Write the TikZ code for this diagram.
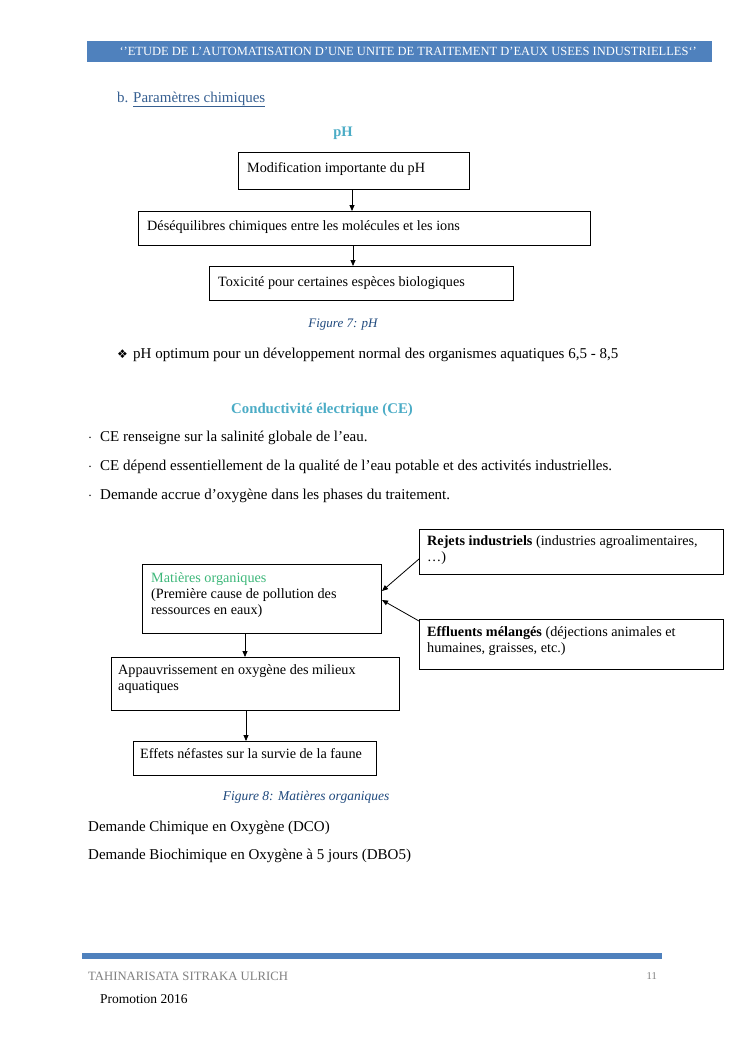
\documentclass[tikz,border=0pt]{standalone}
\usepackage{fontspec}
\setmainfont{Liberation Serif}
\usetikzlibrary{arrows.meta,calc}
\definecolor{hdrblue}{HTML}{4F81BD}
\definecolor{teal}{HTML}{4BACC6}
\definecolor{capblue}{HTML}{1F497D}
\definecolor{subblue}{HTML}{365F91}
\definecolor{mogreen}{HTML}{3DB87A}
\definecolor{footgray}{HTML}{7F7F7F}
\tikzset{
  box/.style={draw, line width=0.9pt, inner sep=0pt, anchor=north west},
  btxt/.style={anchor=base west, inner sep=0pt, font=\fontsize{14.2}{16}\selectfont, align=left},
  body/.style={anchor=base west, inner sep=0pt, font=\fontsize{15}{17}\selectfont},
  arr/.style={-{Triangle[length=6pt,width=5pt]}, line width=0.8pt},
}
\begin{document}
\begin{tikzpicture}[x=1pt,y=-1pt]
\useasboundingbox (0,0) rectangle (745,1053);
\fill[white] (0,0) rectangle (745,1053);
% header
\node[fill=hdrblue, minimum width=625pt, minimum height=21pt, inner sep=0pt, anchor=north west] (hdr) at (87,41) {};
\node[text=white, inner sep=0pt, font=\fontsize{12.5}{14}\selectfont] (hdrt) at ($(hdr.center)+(8.5,0)$) {`'ETUDE DE L'AUTOMATISATION D'UNE UNITE DE TRAITEMENT D'EAUX USEES INDUSTRIELLES`'};
% section
\node[body, text=subblue] (secb) at (117,102) {b.};
\node[body, text=subblue] (sect) at (133,102) {\underline{Paramètres chimiques}};
\node[text=teal, font=\bfseries\fontsize{14.5}{17}\selectfont, inner sep=0pt] (ph) at (343,133) {pH};
% pH diagram
\node[box, minimum width=231pt, minimum height=37pt] (p1) at (238,152) {};
\node[btxt] (p1t) at ($(p1.north west)+(9,20)$) {Modification importante du pH};
\node[box, minimum width=452pt, minimum height=34pt] (p2) at (138,211) {};
\node[btxt] (p2t) at ($(p2.north west)+(9,19)$) {Déséquilibres chimiques entre les molécules et les ions};
\node[box, minimum width=304pt, minimum height=34pt] (p3) at (209,266) {};
\node[btxt] (p3t) at ($(p3.north west)+(9,20)$) {Toxicité pour certaines espèces biologiques};
\draw[arr] (p1.south -| 352,0) -- (p2.north -| 352,0);
\draw[arr] (p2.south -| 353,0) -- (p3.north -| 353,0);
\node[text=capblue, font=\itshape\fontsize{13}{15}\selectfont, inner sep=0pt] (cap7) at (343,325) {Figure 7: pH};
% bullet
\node[anchor=base west, inner sep=0pt, font=\fontspec{DejaVu Sans}\fontsize{12}{14}\selectfont] (dia) at (117,358) {❖};
\node[body] (opt) at (133,358) {pH optimum pour un développement normal des organismes aquatiques 6,5 - 8,5};
\node[anchor=base west, inner sep=0pt, text=teal, font=\bfseries\fontsize{14.8}{17}\selectfont] (ce) at (231,413) {Conductivité électrique (CE)};
\node[body] (d1) at (88,441) {$\cdot$};
\node[body] (l1) at (100,441) {CE renseigne sur la salinité globale de l’eau.};
\node[body] (d2) at (88,470) {$\cdot$};
\node[body] (l2) at (100,470) {CE dépend essentiellement de la qualité de l’eau potable et des activités industrielles.};
\node[body] (d3) at (88,499) {$\cdot$};
\node[body] (l3) at (100,499) {Demande accrue d'oxygène dans les phases du traitement.};
% organic diagram
\node[box, minimum width=239pt, minimum height=69pt] (mo) at (142,564) {};
\node[btxt] (mot) at ($(mo.north west)+(9,50)$) {\textcolor{mogreen}{Matières organiques}\\(Première cause de pollution des\\ressources en eaux)};
\node[box, minimum width=304pt, minimum height=45pt] (ri) at (419,529) {};
\node[btxt] (rit) at ($(ri.north west)+(8,32)$) {\textbf{Rejets industriels} (industries agroalimentaires,\\…)};
\node[box, minimum width=304pt, minimum height=50pt] (em) at (419,619) {};
\node[btxt] (emt) at ($(em.north west)+(8,33)$) {\textbf{Effluents mélangés} (déjections animales et\\humaines, graisses, etc.)};
\coordinate (ri0) at (419,559);
\coordinate (mo1) at (382,591);
\coordinate (em0) at (419,621);
\coordinate (mo2) at (382,600);
\draw[arr] (ri0) -- (mo1);
\draw[arr] (em0) -- (mo2);
\node[box, minimum width=288pt, minimum height=53pt] (ap) at (111,657) {};
\node[btxt] (apt) at ($(ap.north west)+(7,33)$) {Appauvrissement en oxygène des milieux\\aquatiques};
\node[box, minimum width=243pt, minimum height=34pt] (ef) at (133,741) {};
\node[btxt] (eft) at ($(ef.north west)+(7,17)$) {Effets néfastes sur la survie de la faune};
\draw[arr] (mo.south -| 245,0) -- (ap.north -| 245,0);
\draw[arr] (ap.south -| 246,0) -- (ef.north -| 246,0);
\node[text=capblue, font=\itshape\fontsize{13.5}{15}\selectfont, inner sep=0pt] (cap8) at (306,797) {Figure 8: Matières organiques};
\node[body] (dco) at (88,831) {Demande Chimique en Oxygène (DCO)};
\node[body] (dbo) at (88,859) {Demande Biochimique en Oxygène à 5 jours (DBO5)};
% footer
\node[fill=hdrblue, minimum width=580pt, minimum height=6pt, inner sep=0pt, anchor=north west] (ftr) at (82,953) {};
\node[anchor=base west, inner sep=0pt, text=footgray, font=\fontsize{12.7}{14}\selectfont] (auth) at (88,980) {TAHINARISATA SITRAKA ULRICH};
\node[anchor=base east, inner sep=0pt, text=footgray, font=\fontsize{10.5}{12}\selectfont] (pg) at (657,979) {11};
\node[body, font=\fontsize{13.5}{16}\selectfont] (promo) at (100,1003) {Promotion 2016};
\end{tikzpicture}
\end{document}
